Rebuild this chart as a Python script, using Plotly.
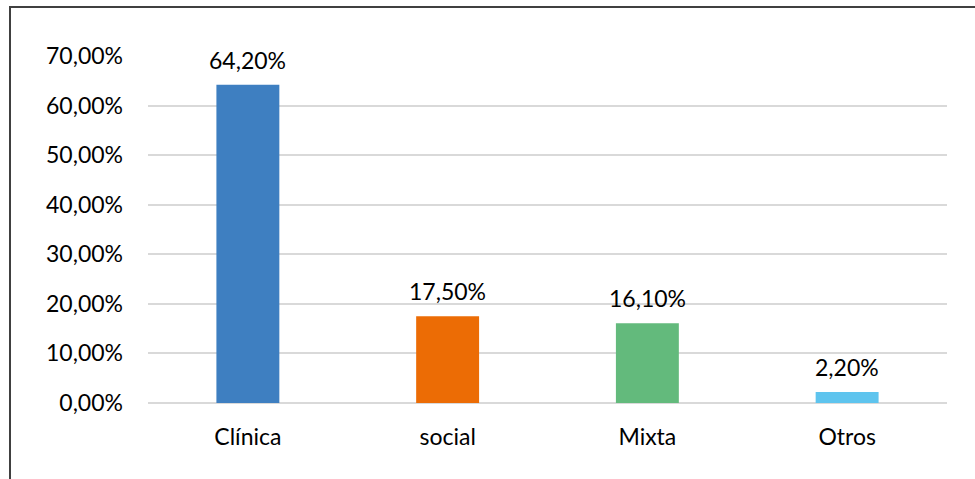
import plotly.graph_objects as go

categories = ["Clínica", "social", "Mixta", "Otros"]
values = [0.642, 0.175, 0.161, 0.022]
labels = ["64,20%", "17,50%", "16,10%", "2,20%"]
colors = ["#3E7FC1", "#EC6C05", "#63BA7C", "#5EC4EE"]

FS = 23

fig = go.Figure(go.Bar(
    x=categories, y=values, marker=dict(color=colors, line=dict(width=0)),
    width=0.315, hoverinfo="skip",
))

for c, v, t in zip(categories, values, labels):
    fig.add_annotation(x=c, y=v, text=t, showarrow=False, yanchor="bottom",
                       yshift=9, font=dict(size=FS, color="#000000"))

L, R, T, B = 148, 28, 56, 76
W, H = 975, 479
pw, ph = W - L - R, H - T - B

fig.update_layout(
    width=W, height=H,
    margin=dict(l=L, r=R, t=T, b=B, pad=0),
    paper_bgcolor="white", plot_bgcolor="white",
    separators=",.",
    font=dict(family="Lato, Carlito, Calibri, sans-serif", size=FS, color="#000000"),
    showlegend=False,
    xaxis=dict(showgrid=False, showline=False, zeroline=False, ticks="",
               tickfont=dict(size=FS), ticklabelstandoff=18),
    yaxis=dict(range=[0, 0.7], dtick=0.1, tickformat=".2%", showgrid=True,
               gridcolor="#D9D9D9", gridwidth=1.5, zeroline=True,
               zerolinecolor="#D9D9D9", zerolinewidth=1.5, showline=False,
               ticks="", tickfont=dict(size=FS), ticklabelstandoff=24),
    shapes=[dict(type="rect", xref="paper", yref="paper",
                 x0=(10 - L) / pw, x1=1.5, y0=-1, y1=1 + (T - 7) / ph,
                 line=dict(color="#404040", width=2), layer="below")],
)

fig.write_html("out.html", config={"displayModeBar": False},
               post_script="document.body.style.margin='0';document.body.style.overflow='hidden';")
